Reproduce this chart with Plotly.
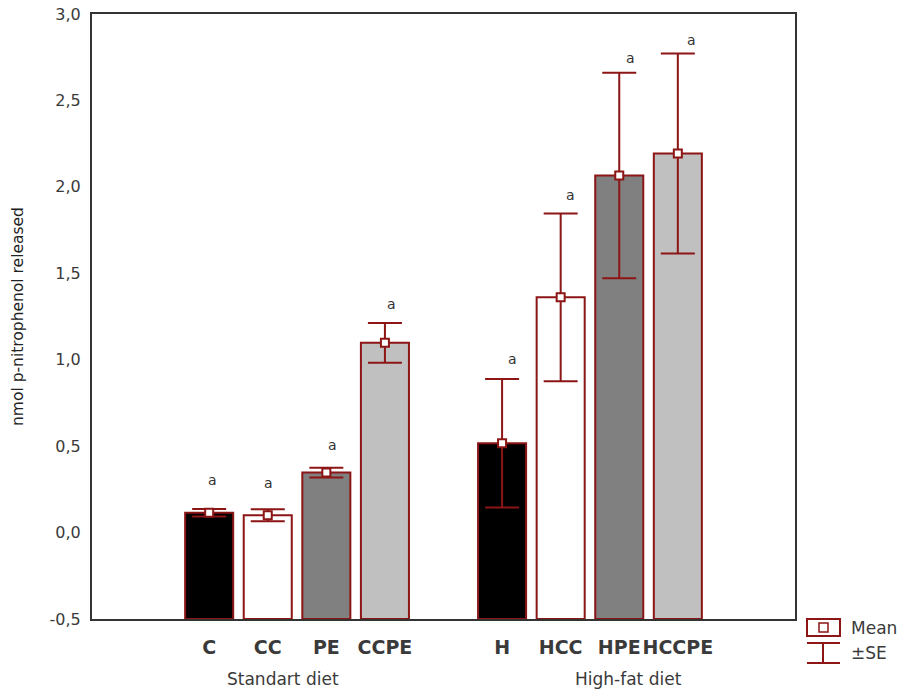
import plotly.graph_objects as go

# ---- data ----
categories = ["C", "CC", "PE", "CCPE", "H", "HCC", "HPE", "HCCPE"]
positions = [0, 1, 2, 3, 5, 6, 7, 8]
means = [0.115, 0.10, 0.347, 1.098, 0.517, 1.361, 2.066, 2.193]
se = [0.022, 0.035, 0.028, 0.115, 0.372, 0.485, 0.594, 0.578]
letters = ["a", "a", "a", "a", "a", "a", "a", "a"]
letter_y = [0.305, 0.288, 0.507, 1.325, 1.002, 1.953, 2.748, 2.851]
letter_dx = [3, 1, 6, 7, 10, 10, 11, 14]
fills = ["#000000", "#ffffff", "#808080", "#c0c0c0",
         "#000000", "#ffffff", "#808080", "#c0c0c0"]
groups = ["Standart diet", "High-fat diet"]
group_x = [1.26, 7.16]
y_tickvals = [-0.5, 0.0, 0.5, 1.0, 1.5, 2.0, 2.5, 3.0]
y_ticktext = ["-0,5", "0,0", "0,5", "1,0", "1,5", "2,0", "2,5", "3,0"]
y_base = -0.5

DARKRED = "#8c1515"
TXT = "#3a3a3a"
FONT = "DejaVu Sans"

fig = go.Figure()

fig.add_trace(go.Bar(
    x=positions,
    y=[m - y_base for m in means],
    base=y_base,
    width=0.82,
    marker=dict(color=fills, line=dict(color=DARKRED, width=2)),
    showlegend=False,
    hoverinfo="skip",
))

fig.add_trace(go.Scatter(
    x=positions,
    y=means,
    mode="markers",
    marker=dict(symbol="square", size=8, color="white",
                line=dict(color=DARKRED, width=2)),
    error_y=dict(type="data", array=se, visible=True,
                 color=DARKRED, thickness=2, width=17),
    showlegend=False,
))

for x, ly, t, dx in zip(positions, letter_y, letters, letter_dx):
    fig.add_annotation(x=x, y=ly, text=t, showarrow=False, xshift=dx,
                       font=dict(family=FONT, size=14, color="#333333"))

for gx, g in zip(group_x, groups):
    fig.add_annotation(x=gx, xref="x", y=-0.099, yref="paper", text=g,
                       showarrow=False, yanchor="middle",
                       font=dict(family=FONT, size=17, color=TXT))

# legend drawn at lower right (page pixel -> paper coords)
def px(x):
    return (x - 92) / 703.0

def py(y):
    return (619 - y) / 605.0

shapes = [
    dict(type="rect", xref="paper", yref="paper",
         x0=px(807), x1=px(840), y0=py(619), y1=py(636),
         line=dict(color=DARKRED, width=2), fillcolor="white"),
    dict(type="rect", xref="paper", yref="paper",
         x0=px(819), x1=px(828), y0=py(623), y1=py(632),
         line=dict(color=DARKRED, width=1.5), fillcolor="white"),
    dict(type="line", xref="paper", yref="paper",
         x0=px(807), x1=px(840), y0=py(643), y1=py(643),
         line=dict(color=DARKRED, width=2)),
    dict(type="line", xref="paper", yref="paper",
         x0=px(807), x1=px(840), y0=py(663), y1=py(663),
         line=dict(color=DARKRED, width=2)),
    dict(type="line", xref="paper", yref="paper",
         x0=px(823), x1=px(823), y0=py(643), y1=py(663),
         line=dict(color=DARKRED, width=2)),
]
fig.add_annotation(x=px(849), y=py(628), xref="paper", yref="paper",
                   text="Mean", showarrow=False, xanchor="left",
                   yanchor="middle", font=dict(family=FONT, size=17, color=TXT))
fig.add_annotation(x=px(849), y=py(653), xref="paper", yref="paper",
                   text="±SE", showarrow=False, xanchor="left",
                   yanchor="middle", font=dict(family=FONT, size=17, color=TXT))

fig.update_layout(
    width=907, height=697,
    margin=dict(l=92, r=112, t=14, b=78),
    plot_bgcolor="white", paper_bgcolor="white",
    shapes=shapes,
    font=dict(family=FONT, color=TXT),
)

fig.update_xaxes(
    range=[-2, 10], tickvals=positions, ticktext=categories,
    showgrid=False, zeroline=False, ticks="", tickangle=0,
    automargin=False,
    showline=True, mirror=True, linecolor="#333333", linewidth=2,
    tickfont=dict(family=FONT, size=19, color=TXT, weight="bold"),
    ticklabelstandoff=10,
)
fig.update_yaxes(
    range=[-0.5, 3.0], tickvals=y_tickvals, ticktext=y_ticktext,
    showgrid=False, zeroline=False, ticks="", automargin=False,
    ticklabeloverflow="allow",
    showline=True, mirror=True, linecolor="#333333", linewidth=2,
    tickfont=dict(family=FONT, size=16, color=TXT),
    ticklabelstandoff=6,
    title=dict(text="nmol p-nitrophenol released", standoff=22,
               font=dict(family=FONT, size=15.5, color="#222222")),
)

fig.write_html("out.html",
               config={"displayModeBar": False},
               post_script="document.body.style.margin='0px';")
